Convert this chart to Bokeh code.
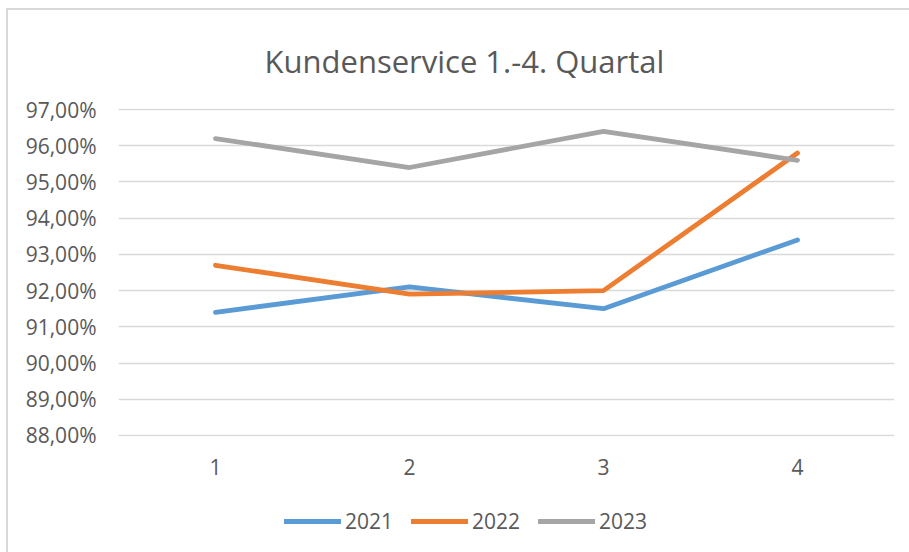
from bokeh.plotting import figure
from bokeh.models import FixedTicker, Legend, LegendItem, Title, Range1d
from bokeh.layouts import column
from bokeh.embed import file_html
from bokeh.resources import INLINE

quarters = [1, 2, 3, 4]
tick_labels_x = ["1", "2", "3", "4"]
y_ticks = [88, 89, 90, 91, 92, 93, 94, 95, 96, 97]
y_tick_labels = ["88,00%", "89,00%", "90,00%", "91,00%", "92,00%", "93,00%",
                 "94,00%", "95,00%", "96,00%", "97,00%"]
series_names = ["2021", "2022", "2023"]
v2021 = [91.4, 92.1, 91.5, 93.4]
v2022 = [92.7, 91.9, 92.0, 95.8]
v2023 = [96.2, 95.4, 96.4, 95.6]
colors = ["#5B9BD5", "#ED7D31", "#A5A5A5"]

FONT = "Open Sans"
TXT = "#595959"

p = figure(width=909, height=490, output_backend="svg", toolbar_location=None,
           x_range=(0.5, 4.5), y_range=(87.97, 97.03),
           min_border_left=118, min_border_right=15, min_border_top=108,
           min_border_bottom=54)
p.title = Title(text="Kundenservice 1.-4. Quartal", align="left",
                text_font=FONT, text_font_size="31px", text_font_style="normal",
                text_color=TXT, standoff=54, offset=146)

p.outline_line_color = None
p.background_fill_color = None
p.border_fill_color = None

p.xgrid.grid_line_color = None
p.ygrid.grid_line_color = "#D9D9D9"
p.ygrid.grid_line_width = 1.5
p.ygrid.ticker = FixedTicker(ticks=y_ticks)

p.yaxis.ticker = FixedTicker(ticks=y_ticks)
p.yaxis.major_label_overrides = {t: l for t, l in zip(y_ticks, y_tick_labels)}
p.xaxis.ticker = FixedTicker(ticks=quarters)
p.xaxis.major_label_overrides = {q: l for q, l in zip(quarters, tick_labels_x)}
for ax in (p.xaxis, p.yaxis):
    ax.axis_line_color = None
    ax.major_tick_line_color = None
    ax.minor_tick_line_color = None
    ax.major_label_text_font = FONT
    ax.major_label_text_font_size = "21px"
    ax.major_label_text_color = TXT
p.yaxis.major_label_standoff = 16
p.xaxis.major_label_standoff = 16

for name, vals, c in zip(series_names, [v2021, v2022, v2023], colors):
    p.line(quarters, vals, line_color=c, line_width=4.8, line_cap="round",
           line_join="round")

# legend strip below the chart (its lines lie outside its visible range)
lg = figure(width=909, height=62, output_backend="svg", toolbar_location=None,
            x_range=Range1d(0, 1), y_range=Range1d(0, 1),
            min_border_left=0, min_border_right=0, min_border_top=0,
            min_border_bottom=0)
lg.axis.visible = False
lg.grid.visible = False
lg.outline_line_color = None
lg.background_fill_color = None
lg.border_fill_color = None
items = []
for name, c in zip(series_names, colors):
    r = lg.line(x=[5, 6], y=[5, 5], line_color=c, line_width=4.8,
                line_cap="round")
    items.append(LegendItem(label=name, renderers=[r]))
legend = Legend(items=items, orientation="horizontal", location=(166, 17),
                label_text_font=FONT, label_text_font_size="21px",
                label_text_color=TXT, glyph_width=57, glyph_height=24,
                label_standoff=4, spacing=18, padding=0, margin=0,
                border_line_color=None, background_fill_alpha=0)
lg.add_layout(legend, "center")

layout = column(p, lg, spacing=0)
layout.styles = {
    "background-color": "white",
    "background-image": "linear-gradient(#D9D9D9, #D9D9D9), "
                        "linear-gradient(#D9D9D9, #D9D9D9)",
    "background-position": "6px 8px, 6px 8px",
    "background-size": "2px 100%, 100% 2px",
    "background-repeat": "no-repeat, no-repeat",
}
open("out.html", "w").write(file_html(layout, INLINE))
